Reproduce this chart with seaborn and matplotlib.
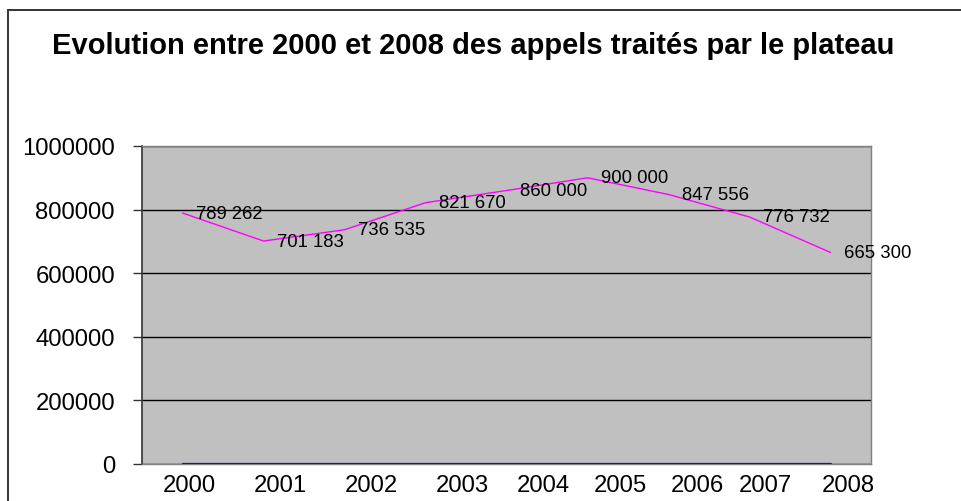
import matplotlib
matplotlib.use("Agg")
import matplotlib.pyplot as plt
from matplotlib.patches import Rectangle
import numpy as np
import pandas as pd
import seaborn as sns

years = ["2000", "2001", "2002", "2003", "2004", "2005", "2006", "2007", "2008"]
appels = [789262, 701183, 736535, 821670, 860000, 900000, 847556, 776732, 665300]
autre = [0, 0, 0, 0, 0, 0, 0, 0, 0]
value_labels = ["789 262", "701 183", "736 535", "821 670", "860 000",
                "900 000", "847 556", "776 732", "665 300"]
y_ticks = [0, 200000, 400000, 600000, 800000, 1000000]

# the year labels sit a bit right of their points in the original
label_shift = [0.09, 0.21, 0.33, 0.45, 0.45, 0.41, 0.36, 0.19, 0.22]

df = pd.DataFrame({"Année": years, "Appels": appels, "Autre": autre})

sns.set_style("white")
plt.rcParams["font.family"] = ["Liberation Sans", "DejaVu Sans"]
plt.rcParams["text.color"] = "black"
plt.rcParams["xtick.color"] = "black"
plt.rcParams["ytick.color"] = "black"

fig = plt.figure(figsize=(9.62, 5.02), dpi=100)
ax = fig.add_axes([142 / 962, 1 - 465 / 502, 729 / 962, 318 / 502])
ax.set_facecolor("#c0c0c0")

sns.lineplot(data=df, x="Année", y="Autre", color="#000080", linewidth=1.6, ax=ax, sort=False)
sns.lineplot(data=df, x="Année", y="Appels", color="#ff00ff", linewidth=1.0, ax=ax, sort=False)

for i, (v, lab) in enumerate(zip(appels, value_labels)):
    ax.annotate(lab, (i, v), xytext=(10, 0), textcoords="offset points",
                ha="left", va="center", fontsize=13.3, color="black",
                annotation_clip=False)

ax.set_xlim(-0.5, len(years) - 0.5)
ax.set_ylim(0, 1000000)
ax.set_yticks(y_ticks)
ax.set_yticklabels([str(t) for t in y_ticks], fontsize=17.2)
ax.set_xticks(np.arange(len(years)) + np.array(label_shift))
ax.set_xticklabels(years, fontsize=17.2)
ax.tick_params(axis="x", length=0, pad=7)
ax.tick_params(axis="y", length=6.5, width=1, color="#333333", pad=13, direction="out", left=True)
ax.yaxis.grid(True, color="black", linewidth=1)
ax.set_axisbelow(True)
ax.set_xlabel("")
ax.set_ylabel("")

for side in ["top", "right", "bottom"]:
    ax.spines[side].set_color("#808080")
    ax.spines[side].set_linewidth(1)
ax.spines["left"].set_color("#333333")
ax.spines["left"].set_linewidth(1.2)

fig.text(473 / 962, 1 - 54 / 502, "Evolution entre 2000 et 2008 des appels traités par le plateau",
         ha="center", va="baseline", fontsize=21, fontweight="bold", color="black")

fig.patches.append(Rectangle((8 / 962, -0.1), 1.2, 1 - 11 / 502 + 0.1,
                             transform=fig.transFigure, fill=False,
                             edgecolor="#333333", linewidth=1.4))

fig.savefig("out.png", dpi=100)
